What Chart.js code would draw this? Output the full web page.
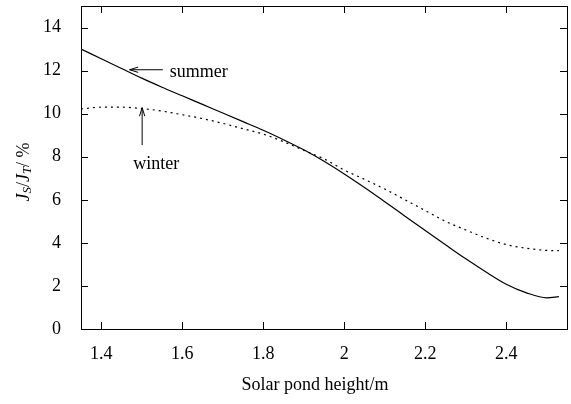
<!DOCTYPE html>
<html>
<head>
<meta charset="UTF-8">
<title>Solar pond</title>
<style>
body{margin:0;background:#fff;}
</style>
</head>
<body>
<canvas id="myChart" width="571" height="404"></canvas>
<script src="https://cdn.jsdelivr.net/npm/chart.js"></script>
<script>
// data
const heights = [1.35,1.4,1.45,1.5,1.55,1.6,1.65,1.7,1.75,1.8,1.85,1.9,1.95,2.0,2.05,2.1,2.15,2.2,2.25,2.3,2.35,2.4,2.45,2.5,2.53];
const summer  = [13.0,12.55,12.1,11.65,11.23,10.83,10.43,10.03,9.63,9.23,8.79,8.32,7.79,7.2,6.57,5.91,5.24,4.57,3.91,3.26,2.65,2.08,1.68,1.45,1.5];
const winter  = [10.22,10.3,10.3,10.24,10.12,9.95,9.77,9.55,9.3,9.05,8.7,8.3,7.9,7.38,6.95,6.5,6.0,5.5,5.0,4.6,4.22,3.92,3.75,3.65,3.64];
const xTicks = [1.4,1.6,1.8,2,2.2,2.4];
const yTicks = [0,2,4,6,8,10,12,14];

const FONT = '"Liberation Serif", "Times New Roman", serif';

function pts(ys){
	return heights.map((h,i) => ({x:h, y:ys[i]}));
}

// frame, inside ticks, axis titles, arrows
const decor = {
	id:'decor',
	afterDraw(chart){
		const c = chart.ctx, a = chart.chartArea;
		const xs = chart.scales.x, ys = chart.scales.y;
		c.save();
		c.strokeStyle = '#000';
		c.lineWidth = 1;
		c.strokeRect(a.left+0.5, a.top+0.5, a.right-a.left, a.bottom-a.top);
		const tl = 7;
		c.beginPath();
		xTicks.forEach(v => {
			const px = Math.round(xs.getPixelForValue(v))+0.5;
			c.moveTo(px, a.bottom); c.lineTo(px, a.bottom-tl);
			c.moveTo(px, a.top); c.lineTo(px, a.top+tl);
		});
		yTicks.forEach(v => {
			const py = Math.round(ys.getPixelForValue(v))+0.5;
			c.moveTo(a.left, py); c.lineTo(a.left+tl, py);
			c.moveTo(a.right, py); c.lineTo(a.right-tl, py);
		});
		c.stroke();

		// x title
		c.fillStyle = '#000';
		c.font = '18px ' + FONT;
		c.textAlign = 'center';
		c.textBaseline = 'middle';
		c.fillText('Solar pond height/m', 315, 385);

		// y title J_S/J_T/ %
		const parts = [
			{t:'J', f:'italic 18px ', dy:0},
			{t:'S', f:'italic 13px ', dy:4},
			{t:'/', f:'18px ', dy:0},
			{t:'J', f:'italic 18px ', dy:0},
			{t:'T', f:'italic 13px ', dy:4},
			{t:'/ %', f:'18px ', dy:0}
		];
		let w = 0;
		parts.forEach(p => { c.font = p.f + FONT; p.w = c.measureText(p.t).width; w += p.w; });
		c.translate(24, 172);
		c.rotate(-Math.PI/2);
		c.textAlign = 'left';
		let x0 = -w/2;
		parts.forEach(p => { c.font = p.f + FONT; c.fillText(p.t, x0, p.dy); x0 += p.w; });
		c.setTransform(1,0,0,1,0,0);

		// annotations
		function arrow(x1,y1,x2,y2){
			const p1x = xs.getPixelForValue(x1), p1y = ys.getPixelForValue(y1);
			const p2x = xs.getPixelForValue(x2), p2y = ys.getPixelForValue(y2);
			const ang = Math.atan2(p2y-p1y, p2x-p1x);
			c.beginPath();
			c.moveTo(p1x,p1y); c.lineTo(p2x,p2y);
			c.moveTo(p2x - 9*Math.cos(ang-0.3), p2y - 9*Math.sin(ang-0.3));
			c.lineTo(p2x,p2y);
			c.lineTo(p2x - 9*Math.cos(ang+0.3), p2y - 9*Math.sin(ang+0.3));
			c.stroke();
		}
		arrow(1.552, 12.04, 1.47, 12.04);
		arrow(1.501, 8.54, 1.501, 10.28);
		c.font = '18px ' + FONT;
		c.textBaseline = 'middle';
		c.textAlign = 'left';
		c.fillText('summer', xs.getPixelForValue(1.569), ys.getPixelForValue(11.9));
		c.textAlign = 'center';
		c.fillText('winter', xs.getPixelForValue(1.536), ys.getPixelForValue(7.65));
		c.restore();
	}
};

const ctx = document.getElementById('myChart').getContext('2d');
const chart = new Chart(ctx, {
	type: 'line',
	data: {
		datasets: [{
			label: 'summer',
			data: pts(summer),
			borderColor: '#000',
			borderWidth: 1.2,
			pointRadius: 0,
			cubicInterpolationMode: 'monotone',
			fill: false
		},{
			label: 'winter',
			data: pts(winter),
			borderColor: '#000',
			borderWidth: 1.2,
			borderDash: [2,4],
			pointRadius: 0,
			cubicInterpolationMode: 'monotone',
			fill: false
		}]
	},
	options: {
		responsive: false,
		animation: false,
		devicePixelRatio: 1,
		layout: { padding: { top: 6, right: 4, left: 0, bottom: 0 } },
		plugins: { legend: { display: false }, tooltip: { enabled: false } },
		scales: {
			x: {
				type: 'linear',
				min: 1.35, max: 2.55,
				grid: { display: false },
				border: { display: false },
				ticks: { color: '#000', font: { family: FONT, size: 18 }, padding: 6, maxRotation: 0,
					callback: v => String(Math.round(v*10)/10) },
				afterBuildTicks: s => { s.ticks = xTicks.map(v => ({value: v})); },
				afterFit: s => { s.height = 75; s.paddingLeft = 0; s.paddingRight = 0; }
			},
			y: {
				min: 0, max: 15,
				grid: { display: false },
				border: { display: false },
				ticks: { color: '#000', font: { family: FONT, size: 18 }, padding: 12 },
				afterBuildTicks: s => { s.ticks = yTicks.map(v => ({value: v})); },
				afterFit: s => { s.width = 81; s.paddingTop = 0; s.paddingBottom = 0; }
			}
		}
	},
	plugins: [decor]
});
</script>
</body>
</html>
